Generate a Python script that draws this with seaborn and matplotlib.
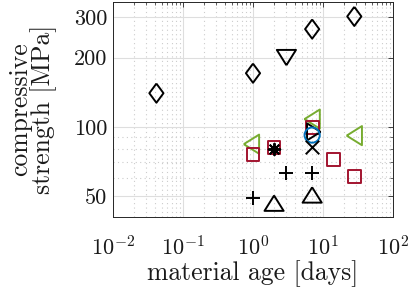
import numpy as np
import pandas as pd
import matplotlib
matplotlib.use('Agg')
import matplotlib.pyplot as plt
import matplotlib.ticker as mticker
import seaborn as sns

# data (age in days, strength in MPa)
diamond_x = [0.0417, 1, 7, 28]
diamond_y = [140, 171, 266, 302]
tridown_x = [3]
tridown_y = [200]
trileft_x = [0.95, 7, 28]
trileft_y = [84, 108, 91.5]
square_x = [1, 2, 7, 14, 28]
square_y = [75.5, 81, 99, 72, 61]
triright_x = [7.4]
triright_y = [95]
circle_x = [7]
circle_y = [92]
cross_x = [7]
cross_y = [82]
star_x = [2]
star_y = [80]
plus_x = [3, 7, 1]
plus_y = [63, 63, 49]
triup_x = [2, 7]
triup_y = [46.5, 50.5]

BLACK = 'black'
RED = '#A2142F'
GREEN = '#77AC30'
BLUE = '#0072BD'

# MATLAB-like marker shapes (wider triangles, taller diamond)
M_DIAMOND = [(0, 1), (0.74, 0), (0, -1), (-0.74, 0), (0, 1)]
M_TUP = [(0, 0.8), (1, -0.8), (-1, -0.8), (0, 0.8)]
M_TDOWN = [(0, -0.8), (1, 0.8), (-1, 0.8), (0, -0.8)]
M_TLEFT = [(-0.8, 0), (0.8, 1), (0.8, -1), (-0.8, 0)]
M_TRIGHT = [(0.8, 0), (-0.8, 1), (-0.8, -1), (0.8, 0)]

series = [
    (diamond_x, diamond_y, M_DIAMOND, BLACK, 190, True),
    (tridown_x, tridown_y, M_TDOWN, BLACK, 190, True),
    (trileft_x, trileft_y, M_TLEFT, GREEN, 190, True),
    (square_x, square_y, 's', RED, 85, True),
    (triright_x, triright_y, M_TRIGHT, BLACK, 150, True),
    (circle_x, circle_y, 'o', BLUE, 120, True),
    (cross_x, cross_y, 'x', BLACK, 95, False),
    (star_x, star_y, (8, 2, 0), BLACK, 70, False),
    (plus_x, plus_y, '+', BLACK, 110, False),
    (triup_x, triup_y, M_TUP, BLACK, 190, True),
]

sns.set_style('white')
plt.rcParams['font.family'] = ['cmr10', 'DejaVu Serif']
plt.rcParams['mathtext.fontset'] = 'cm'
plt.rcParams['axes.unicode_minus'] = False
plt.rcParams['axes.formatter.use_mathtext'] = True

fig = plt.figure(figsize=(4.08, 2.96), dpi=100)
ax = fig.add_axes([113/408, 1 - 217/296, 280/408, 215/296])

for xs, ys, mk, col, size, filled in series:
    df = pd.DataFrame({'age': xs, 'strength': ys})
    sns.scatterplot(data=df, x='age', y='strength', marker=mk, s=size, ax=ax,
                    color=col, linewidth=1.4, zorder=3)
    coll = ax.collections[-1]
    if filled:
        coll.set_facecolor('none')
    coll.set_edgecolor(col)
    coll.set_linewidth(1.4)

ax.set_xscale('log')
ax.set_yscale('log')
ax.set_xlim(1e-2, 1e2)
ax.set_ylim(40.5, 349)

ax.xaxis.set_major_locator(mticker.LogLocator(base=10, numticks=10))
ax.xaxis.set_minor_locator(mticker.LogLocator(base=10, subs=np.arange(2, 10), numticks=20))
ax.set_yticks([50, 100, 200, 300])
ax.yaxis.set_major_formatter(mticker.FixedFormatter(['50', '100', '200', '300']))
ax.yaxis.set_minor_locator(mticker.FixedLocator([40, 60, 70, 80, 90]))
ax.yaxis.set_minor_formatter(mticker.NullFormatter())

ax.grid(True, which='major', color='#dedede', linewidth=0.8, linestyle='-')
ax.grid(True, which='minor', color='#cccccc', linewidth=0.8, linestyle=(0, (1, 3)))
ax.set_axisbelow(True)

ax.tick_params(which='both', direction='in', top=True, right=True,
               color='#262626', labelsize=16, labelcolor='#1a1a1a')
ax.tick_params(which='major', length=3.5, width=0.6)
ax.tick_params(which='minor', length=2, width=0.5)
ax.tick_params(axis='x', pad=13)
ax.tick_params(axis='y', pad=4)
for sp in ax.spines.values():
    sp.set_color('#262626')
    sp.set_linewidth(0.7)

ax.set_xlabel('material age [days]', fontsize=18.5, color='#1a1a1a', labelpad=1)
ax.set_ylabel('compressive\nstrength [MPa]', fontsize=18.5, color='#1a1a1a',
              multialignment='center', linespacing=0.9)
ax.yaxis.set_label_coords(-0.2, 0.5)

fig.savefig('out.png', dpi=100)
